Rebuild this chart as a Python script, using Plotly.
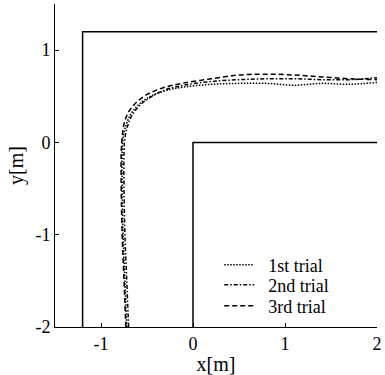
import plotly.graph_objects as go

# Walls of the corridor
outer_x = [-1.2, -1.2, 2.0]
outer_y = [-2.0, 1.2, 1.2]
inner_x = [0.0, 0.0, 2.0]
inner_y = [-2.0, 0.0, 0.0]

# Trajectories
t1_x = [-0.72, -0.74, -0.76, -0.77, -0.77, -0.76, -0.73, -0.68, -0.60, -0.48, -0.30, -0.10, 0.2, 0.5, 0.8, 1.1, 1.4, 1.7, 2.0]
t1_y = [-2.0, -1.5, -1.0, -0.5, -0.1, 0.05, 0.18, 0.30, 0.40, 0.49, 0.56, 0.60, 0.63, 0.64, 0.64, 0.62, 0.64, 0.63, 0.65]
t2_x = [-0.70, -0.72, -0.74, -0.75, -0.75, -0.74, -0.71, -0.66, -0.58, -0.46, -0.30, -0.10, 0.2, 0.5, 0.8, 1.1, 1.4, 1.7, 2.0]
t2_y = [-2.0, -1.5, -1.0, -0.5, -0.1, 0.05, 0.18, 0.30, 0.40, 0.49, 0.57, 0.62, 0.66, 0.68, 0.69, 0.69, 0.68, 0.68, 0.70]
t3_x = [-0.73, -0.75, -0.77, -0.78, -0.78, -0.77, -0.75, -0.70, -0.62, -0.50, -0.33, -0.12, 0.2, 0.5, 0.8, 1.1, 1.4, 1.7, 2.0]
t3_y = [-2.0, -1.5, -1.0, -0.5, -0.1, 0.05, 0.20, 0.33, 0.43, 0.52, 0.59, 0.64, 0.69, 0.73, 0.74, 0.73, 0.71, 0.69, 0.68]

trial_names = ["1st trial", "2nd trial", "3rd trial"]
x_ticks = [-1, 0, 1, 2]
y_ticks = [-2, -1, 0, 1]

FONT = "Liberation Serif"
FS_TICK = 18
FS_LEG = 18
FS_TITLE = 20
SP = "\u00a0\u00a0"

fig = go.Figure()
fig.add_trace(go.Scatter(x=outer_x, y=outer_y, mode="lines", line=dict(color="black", width=1.5), showlegend=False, hoverinfo="skip"))
fig.add_trace(go.Scatter(x=inner_x, y=inner_y, mode="lines", line=dict(color="black", width=1.5), showlegend=False, hoverinfo="skip"))
fig.add_trace(go.Scatter(x=t1_x, y=t1_y, mode="lines", name=SP + trial_names[0], legend="legend",
                         line=dict(color="black", width=1.5, dash="1.5px,1.5px", shape="spline")))
fig.add_trace(go.Scatter(x=t2_x, y=t2_y, mode="lines", name=SP + trial_names[1], legend="legend2",
                         line=dict(color="black", width=1.5, dash="4px,2px,1.5px,2px", shape="spline")))
fig.add_trace(go.Scatter(x=t3_x, y=t3_y, mode="lines", name=SP + trial_names[2], legend="legend3",
                         line=dict(color="black", width=1.5, dash="5px,3px", shape="spline")))

axis_common = dict(showgrid=False, zeroline=False, showline=True, linecolor="black", linewidth=1,
                   ticks="inside", ticklen=4, tickcolor="black", mirror=False,
                   tickfont=dict(family=FONT, size=FS_TICK, color="black"))

leg_common = dict(x=0.51, xanchor="left", yanchor="middle", bgcolor="rgba(0,0,0,0)",
                  font=dict(family=FONT, size=FS_LEG, color="black"), itemwidth=30)

fig.update_layout(
    width=385, height=375,
    margin=dict(l=55, r=8, t=4, b=48),
    paper_bgcolor="white", plot_bgcolor="white",
    font=dict(family=FONT, size=FS_TICK, color="black"),
    xaxis=dict(range=[-1.5, 2.0], tickvals=x_ticks, ticktext=[str(v) for v in x_ticks],
               title=dict(text="x[m]", font=dict(family=FONT, size=FS_TITLE), standoff=0), **axis_common),
    yaxis=dict(range=[-2.0, 1.5], tickvals=y_ticks, ticktext=[str(v) for v in y_ticks],
               title=dict(text="y[m]", font=dict(family=FONT, size=FS_TITLE), standoff=6), **axis_common),
    legend=dict(y=0.192, **leg_common),
    legend2=dict(y=0.130, **leg_common),
    legend3=dict(y=0.065, **leg_common),
)

fig.write_html("out.html")
